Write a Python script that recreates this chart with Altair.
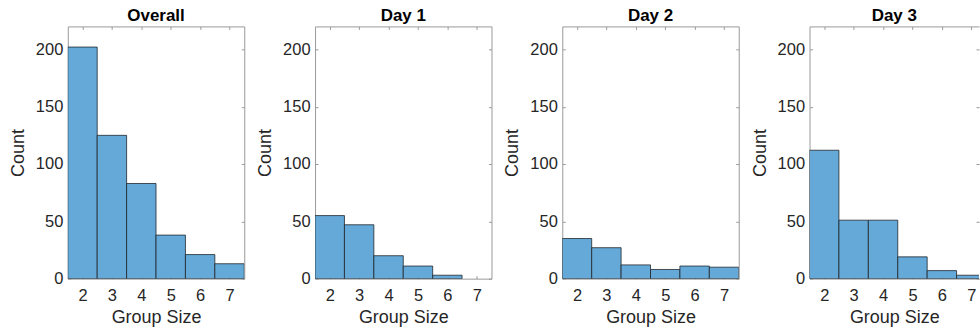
import altair as alt
import pandas as pd

sizes = [2, 3, 4, 5, 6, 7]
overall = [202, 125, 83, 38, 21, 13]
day1 = [55, 47, 20, 11, 3, 0]
day2 = [35, 27, 12, 8, 11, 10]
day3 = [112, 51, 51, 19, 7, 3]

titles = ["Overall", "Day 1", "Day 2", "Day 3"]
series = [overall, day1, day2, day3]
y_ticks = [0, 50, 100, 150, 200]

FONT = "Liberation Sans"
FILL = "#64A9D8"
BOX = "#9a9a9a"
TXT = "#262626"
PW, PH = 177, 253


def make_panel(title, counts, width, xmax, last=False):
    df = pd.DataFrame({"size": sizes, "count": counts})
    df = df[df["count"] > 0]
    base = alt.Chart(df).transform_calculate(
        start="datum.size - 0.5", end="datum.size + 0.5"
    )
    xs = alt.Scale(domain=[1.5, xmax], nice=False, zero=False)
    ys = alt.Scale(domain=[0, 220], nice=False)
    tick_common = dict(offset=-3, tickSize=3, tickColor=BOX, domain=False,
                       grid=False, tickWidth=1)
    bars = base.mark_bar(
        fill=FILL, stroke="#1b1f24", strokeWidth=0.9, strokeOpacity=0.85,
        clip=True,
    ).encode(
        x=alt.X("start:Q", scale=xs, axis=alt.Axis(
            orient="bottom", values=sizes, title="Group Size",
            labelFontSize=16.5, titleFontSize=18, labelFont=FONT, titleFont=FONT,
            labelColor=TXT, titleColor=TXT, titleFontWeight="normal",
            labelPadding=9, titlePadding=4, **tick_common)),
        x2="end:Q",
        y=alt.Y("count:Q", scale=ys, axis=alt.Axis(
            orient="left", values=y_ticks, title="Count",
            labelFontSize=16.5, titleFontSize=18, labelFont=FONT, titleFont=FONT,
            labelColor=TXT, titleColor=TXT, titleFontWeight="normal",
            labelPadding=5, titlePadding=8, **tick_common)),
        y2=alt.datum(0),
    )
    ghost = base.mark_bar(opacity=0, clip=True).encode(
        x=alt.X("start:Q", scale=xs, axis=alt.Axis(
            orient="top", values=sizes, title=None, labels=False, **tick_common)),
        x2="end:Q",
        y=alt.Y("count:Q", scale=ys, axis=alt.Axis(
            orient="right", values=y_ticks, title=None, labels=False, **tick_common)),
        y2=alt.datum(0),
    )
    layers = [bars, ghost]
    if last:
        dom = dict(domain=True, domainColor=BOX, domainWidth=1, ticks=False,
                   labels=False, title=None, grid=False)
        frame1 = base.mark_bar(opacity=0, clip=True).encode(
            x=alt.X("start:Q", scale=xs, axis=alt.Axis(orient="bottom", **dom)),
            x2="end:Q",
            y=alt.Y("count:Q", scale=ys, axis=alt.Axis(orient="left", **dom)),
            y2=alt.datum(0),
        )
        frame2 = base.mark_bar(opacity=0, clip=True).encode(
            x=alt.X("start:Q", scale=xs, axis=alt.Axis(orient="top", **dom)),
            x2="end:Q",
            y=alt.Y("count:Q", scale=ys, axis=None),
            y2=alt.datum(0),
        )
        layers += [frame1, frame2]
    props = dict(
        width=width, height=PH,
        title=alt.TitleParams(title, font=FONT, fontSize=17, fontWeight="bold",
                              color="#000000", anchor="middle", offset=1),
    )
    if last:
        props["view"] = alt.ViewBackground(stroke=None)
    return alt.layer(*layers).resolve_axis(x="independent", y="independent").properties(**props)


panels = []
for i, (t, c) in enumerate(zip(titles, series)):
    if i < 3:
        panels.append(make_panel(t, c, PW, 7.5))
    else:
        w = 170
        panels.append(make_panel(t, c, w, 1.5 + 6 * w / PW, last=True))

chart = alt.hconcat(*panels, spacing=71, bounds="flush").properties(
    padding={"left": 8, "top": 6, "right": 0, "bottom": 0},
    background="white",
).configure_view(stroke=BOX, strokeWidth=1)

chart.save("out.html", embed_options={"renderer": "svg", "actions": False})
